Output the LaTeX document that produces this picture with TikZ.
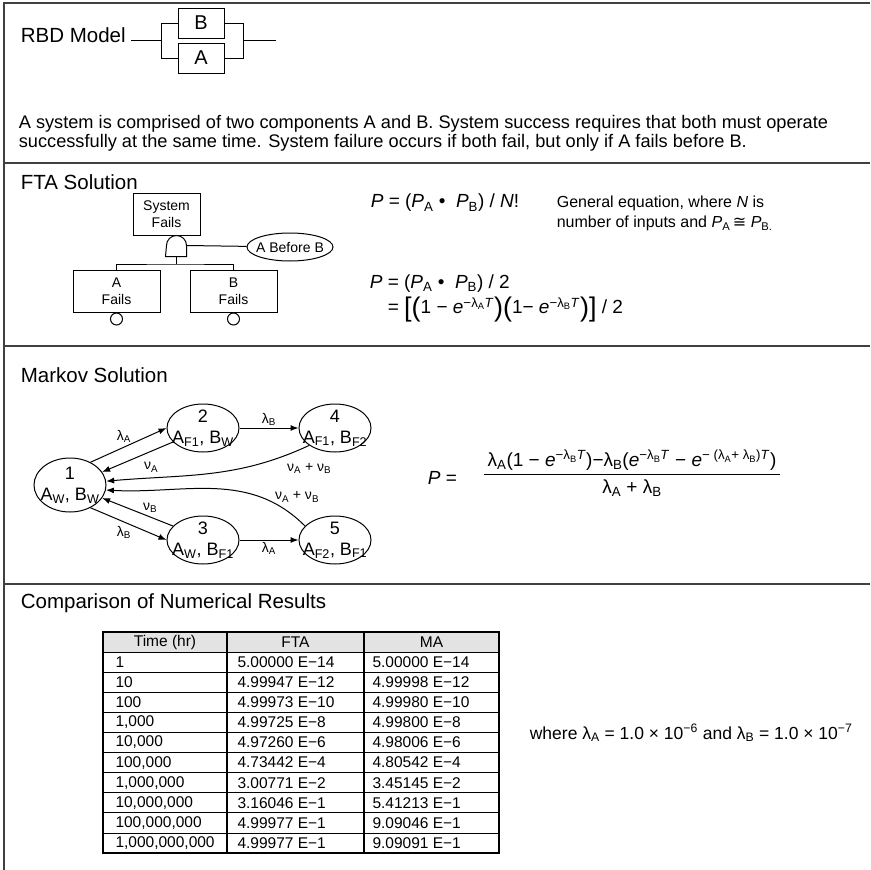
\documentclass[tikz,border=0pt]{standalone}
\usepackage{fontspec}
\setmainfont{Liberation Sans}
\newfontfamily\symfont{DejaVu Sans}
\usetikzlibrary{shapes.geometric,arrows.meta,positioning}

\newcommand{\lsub}[1]{\textsubscript{#1}}
\newcommand{\lsup}[1]{\textsuperscript{#1}}
\newcommand{\vi}[1]{\textit{#1}}
\newcommand{\bigbr}[1]{{\fontsize{27}{27}\selectfont\raisebox{-2.5pt}{#1}}}

\tikzset{
  frame/.style={line width=1.3pt, black!75},
  heading/.style={anchor=west, font=\fontsize{20.5}{24}\selectfont},
  txt/.style={anchor=west, font=\fontsize{18.2}{21}\selectfont},
  eq/.style={anchor=west, font=\fontsize{19}{25}\selectfont},
  note/.style={anchor=west, align=left, font=\fontsize{16}{20}\selectfont},
  blk/.style={draw, minimum width=46pt, minimum height=30pt, inner sep=0pt, font=\fontsize{20}{24}\selectfont},
  ftbox/.style={draw, align=center, minimum width=87pt, minimum height=42pt, inner sep=0pt, font=\fontsize{14}{17}\selectfont},
  basic/.style={draw, circle, minimum size=12pt, inner sep=0pt},
  state/.style={draw, ellipse, minimum width=72pt, minimum height=48pt, inner sep=-8pt, align=center, font=\fontsize{18}{21}\selectfont},
  rate/.style={font=\fontsize{14}{16}\selectfont, inner sep=2pt},
  trans/.style={-{Latex[length=8pt,width=6pt]}},
  cell/.style={anchor=west, inner sep=0pt, font=\fontsize{15.5}{18}\selectfont},
}

\begin{document}
\begin{tikzpicture}[x=1pt, y=1pt, line width=1pt]
\useasboundingbox (0,0) rectangle (870,-870);

% frame
\draw[frame] (870,-3) -- (4,-3) -- (4,-870);
\foreach \yy in {163,346,584}
  \draw[frame] (4,-\yy) -- (870,-\yy);

% RBD model
\node[heading] (rbd) at (17,-35) {RBD Model};
\node[blk] (blkB) at (201,-23) {B};
\node[blk] (blkA) at (201,-58) {A};
\coordinate (rbdin) at (131,-40.5);
\coordinate (jl) at (161,-40.5);
\coordinate (jr) at (243,-40.5);
\coordinate (rbdout) at (276,-40.5);
\draw (rbdin) -- (jl) |- (blkB.west) (jl) |- (blkA.west);
\draw (rbdout) -- (jr) |- (blkB.east) (jr) |- (blkA.east);

\node[txt] (desc1) at (15,-124) {A system is comprised of two components A and B. System success requires that both must operate};
\node[txt] (desc2) at (15,-143) {successfully at the same time. System failure occurs if both fail, but only if A fails before B.};

% FTA solution
\node[heading] (fta) at (17,-182) {FTA Solution};
\node[ftbox, minimum width=67pt] (sysf) at (166.5,-214) {System\\Fails};
\node[inner sep=0pt, minimum width=20pt, minimum height=21pt] (gate) at (176,-245.5) {};
\draw (gate.south west) -- (gate.south east) -- ++(0,11) arc[start angle=0, end angle=180, radius=10pt] -- cycle;
\node[draw, ellipse, minimum width=86pt, minimum height=28pt, inner sep=-6pt, font=\fontsize{14}{17}\selectfont] (abb) at (290,-247) {A Before B};
\draw (gate.east) -- (abb);
\coordinate (bus) at (176,-264);
\node[ftbox] (fA) at (116.5,-291) {A\\Fails};
\node[ftbox] (fB) at (233.5,-291) {B\\Fails};
\draw (gate.south) -- (bus);
\draw (fA.north) |- (bus) -| (fB.north);
\node[basic, below=0pt of fA] (evA) {};
\node[basic, below=0pt of fB] (evB) {};

\node[eq] (pgen) at (367,-203) {\vi{P} = (\vi{P}\lsub{A} • \ \vi{P}\lsub{B}) / \vi{N}!};
\node[note, anchor=north west] (gnote) at (553,-192) {General equation, where \vi{N} is\\number of inputs and \vi{P}\lsub{A}\,{\symfont ≅}\ \vi{P}\lsub{B.}};
\node[eq, align=left, anchor=north west] (ptwo) at (366,-271) {\vi{P} = (\vi{P}\lsub{A} • \ \vi{P}\lsub{B}) / 2\\
  \hspace{18pt}= \bigbr{[(}1 − \vi{e}\lsup{−λ\lsub{A}\vi{T}}\bigbr{)(}1− \vi{e}\lsup{−λ\lsub{B}\vi{T}}\bigbr{)]} / 2};

% Markov solution
\node[heading] (mk) at (17,-375) {Markov Solution};
\node[state, minimum height=54pt] (s1) at (70,-485) {1\\A\lsub{W}, B\lsub{W}};
\node[state] (s2) at (203,-428) {2\\A\lsub{F1}, B\lsub{W}};
\node[state] (s4) at (335,-428) {4\\A\lsub{F1}, B\lsub{F2}};
\node[state] (s3) at (203,-540) {3\\A\lsub{W}, B\lsub{F1}};
\node[state] (s5) at (335,-540) {5\\A\lsub{F2}, B\lsub{F1}};

\draw[trans] (s1.48) -- (s2.180) node[rate, midway, above left, xshift=5pt] {λ\lsub{A}};
\draw[trans] (s2.205) -- (s1.22) node[rate, midway, below right, xshift=4pt, yshift=-3pt] {ν\lsub{A}};
\draw[trans] (s2) -- (s4) node[rate, midway, above] {λ\lsub{B}};
\draw[trans] (s4.214) to[out=205, in=5] node[rate, pos=0, yshift=-23pt] {ν\lsub{A} + ν\lsub{B}} (s1.6);
\draw[trans] (s5.155) to[out=135, in=-3] node[rate, pos=0, xshift=-8pt, yshift=29pt] {ν\lsub{A} + ν\lsub{B}} (s1.-8);
\draw[trans] (s3.155) -- (s1.-22) node[rate, midway, above right, xshift=3pt, yshift=-3pt] {ν\lsub{B}};
\draw[trans] (s1.-48) -- (s3.180) node[rate, midway, below left, xshift=5pt] {λ\lsub{B}};
\draw[trans] (s3) -- (s5) node[rate, midway, below] {λ\lsub{A}};

\node[eq] (pm) at (424,-478) {\vi{P} =};
\node[eq, anchor=south] (num) at (632,-474) {λ\lsub{A}(1 − \vi{e}\lsup{−λ\lsub{B}\vi{T}})−λ\lsub{B}(\vi{e}\lsup{−λ\lsub{B}\vi{T}} − \vi{e}\lsup{− (λ\lsub{A}+ λ\lsub{B})\vi{T}})};
\node[eq, anchor=north] (den) at (632,-476) {λ\lsub{A} + λ\lsub{B}};
\draw (num.south west) -- (num.south east);

% numerical results
\node[heading] (cmp) at (17,-603) {Comparison of Numerical Results};
\fill[gray!22] (103,-632) rectangle (499,-652.1);
\foreach \r in {1,...,10}
  \draw (103,{-632-20.1*\r}) -- (499,{-632-20.1*\r});
\draw[line width=1.6pt] (227,-632) -- (227,-853) (364,-632) -- (364,-853);
\draw[line width=2.4pt] (103,-632) rectangle (499,-853);
\node[cell, anchor=center] (hT) at (165,-642) {Time (hr)};
\node[cell, anchor=center] (hF) at (295.5,-642) {FTA};
\node[cell, anchor=center] (hM) at (431.5,-642) {MA};
\foreach \t/\f/\m [count=\i] in {
  1/5.00000 E−14/5.00000 E−14,
  10/4.99947 E−12/4.99998 E−12,
  100/4.99973 E−10/4.99980 E−10,
  1{,}000/4.99725 E−8/4.99800 E−8,
  10{,}000/4.97260 E−6/4.98006 E−6,
  100{,}000/4.73442 E−4/4.80542 E−4,
  1{,}000{,}000/3.00771 E−2/3.45145 E−2,
  10{,}000{,}000/3.16046 E−1/5.41213 E−1,
  100{,}000{,}000/4.99977 E−1/9.09046 E−1,
  1{,}000{,}000{,}000/4.99977 E−1/9.09091 E−1} {
  \node[cell] (t\i) at (115,{-642-20.1*\i}) {\t};
  \node[cell] (f\i) at (237,{-642-20.1*\i}) {\f};
  \node[cell] (m\i) at (372,{-642-20.1*\i}) {\m};
}
\node[note, font=\fontsize{17.5}{20}\selectfont] (where) at (526,-733) {where λ\lsub{A} = 1.0 × 10\lsup{−6} and λ\lsub{B} = 1.0 × 10\lsup{−7}};
\end{tikzpicture}
\end{document}
